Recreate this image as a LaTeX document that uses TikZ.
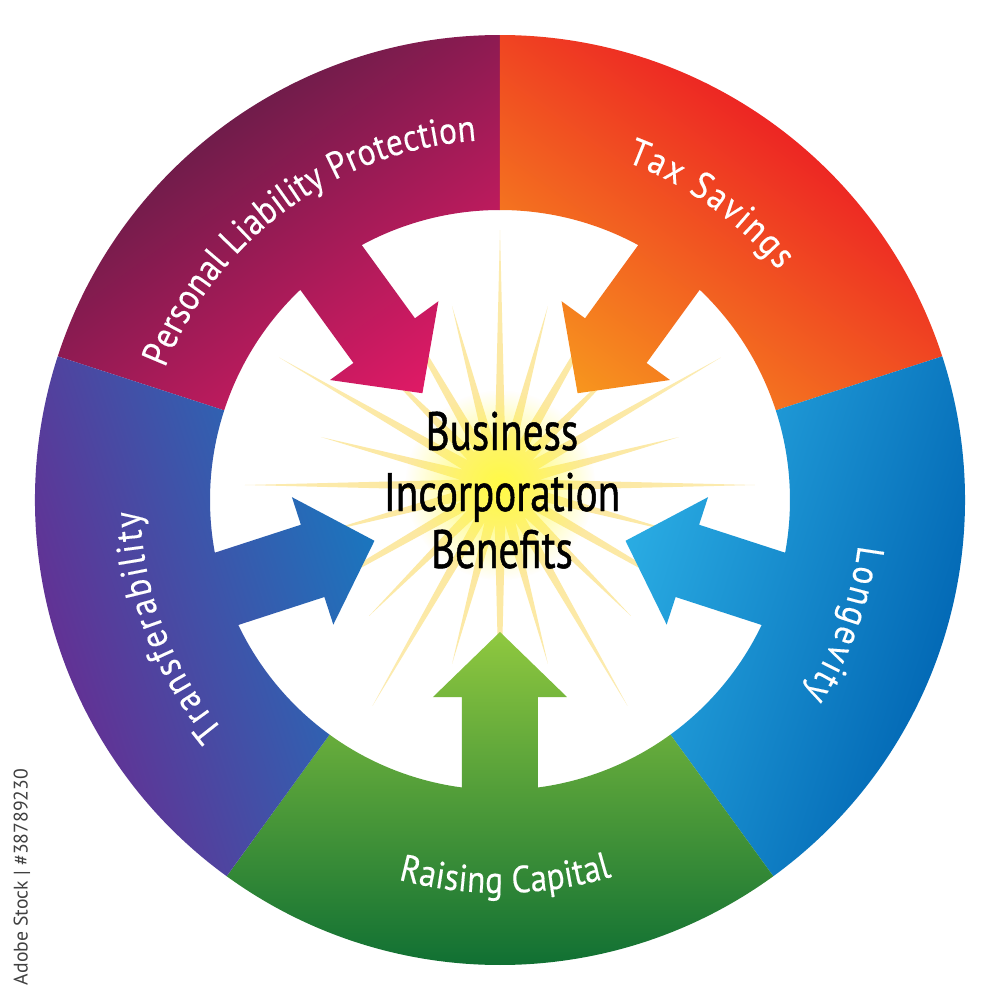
\documentclass[tikz,border=0pt]{standalone}
\usepackage{fontspec}
\setmainfont{PT Sans}
\newfontfamily\labelfont[FakeStretch=0.88,FakeBold=0.3]{PT Sans}
\newfontfamily\centerfont[FakeStretch=0.76,FakeBold=0.9]{PT Sans}
\usetikzlibrary{decorations.text,fadings}
\definecolor{plO}{RGB}{102,28,72}
\definecolor{plI}{RGB}{224,26,102}
\definecolor{tsO}{RGB}{236,28,36}
\definecolor{tsI}{RGB}{247,150,30}
\definecolor{lgO}{RGB}{0,100,178}
\definecolor{lgI}{RGB}{42,172,227}
\definecolor{rcO}{RGB}{5,104,50}
\definecolor{rcI}{RGB}{143,200,63}
\definecolor{trO}{RGB}{104,44,145}
\definecolor{trI}{RGB}{26,118,190}
\definecolor{starA}{RGB}{255,240,140}
\definecolor{starB}{RGB}{252,232,160}
\definecolor{starC}{RGB}{252,238,190}
\definecolor{glowY}{RGB}{255,250,70}
\pgfdeclareradialshading{starshade}{\pgfpointorigin}{color(0bp)=(starA); color(8bp)=(starB); color(36bp)=(starC); color(50bp)=(white)}
\tikzfading[name=glowfade, inner color=transparent!0, outer color=transparent!100]
\tikzset{
  ringlabel/.style={decorate, decoration={text along path, text align={fit to path}, text color=white, text={|\labelfont\fontsize{10.8pt}{12pt}\selectfont|#1}}},
  titleline/.style={font=\centerfont\fontsize{15.4pt}{17pt}\selectfont, text=black, anchor=base, inner sep=0pt}
}
\begin{document}
\begin{tikzpicture}[x=0.1mm,y=0.1mm]
\useasboundingbox (-500,-500) rectangle (500,500);
\fill[white] (-500,-500) rectangle (500,500);
% starburst
\begin{scope}[shift={(0,15)}]
  \shade[shading=starshade] (0:255)
    \foreach \k [evaluate=\k as \r using {mod(\k,4)==0 ? 255 : (mod(\k,2)==0 ? 185 : 40)}] in {1,...,47} { -- (\k*7.5:\r) } -- cycle;
  \fill[glowY, path fading=glowfade] (0,0) circle (95);
\end{scope}
% segments with arrows
\foreach \rot/\co/\ci in {36/plO/plI, -36/tsO/tsI, -108/lgO/lgI, 180/rcO/rcI, 108/trO/trI} {
  \begin{scope}[transform canvas={rotate=\rot}]
    \shade[top color=\co, bottom color=\ci]
      (126:465) arc[start angle=126, end angle=54, radius=465]
      -- (54:290) arc[start angle=54, end angle=82.47, radius=290]
      -- (38,197) -- (67,197) -- (0,132) -- (-67,197) -- (-38,197)
      -- (97.53:290) arc[start angle=97.53, end angle=126, radius=290] -- cycle;
  \end{scope}
}
% ring labels
\path[ringlabel={Personal Liability Protection}] (158.5:360) arc[start angle=158.5, end angle=93.7, radius=360];
\path[ringlabel={Tax Savings}] (69.5:361) arc[start angle=69.5, end angle=39.5, radius=361];
\path[ringlabel={Longevity}] (-7.2:361) arc[start angle=-7.2, end angle=-32.5, radius=361];
\path[ringlabel={Raising Capital}] (-105:393) arc[start angle=-105, end angle=-73.4, radius=393];
\path[ringlabel={Transferability}] (219.8:360) arc[start angle=219.8, end angle=181.8, radius=360];
% center title
\node[titleline] (tBusiness) at (2,50) {Business};
\node[titleline] (tIncorp) at (2,-11) {Incorporation};
\node[titleline] (tBenefits) at (2,-68) {Benefits};
% credit
\node[rotate=90, font=\fontsize{5.6pt}{6pt}\selectfont, text=black!75, inner sep=0pt] (credit) at (-478,-377) {Adobe Stock | \#38789230};
\end{tikzpicture}
\end{document}
